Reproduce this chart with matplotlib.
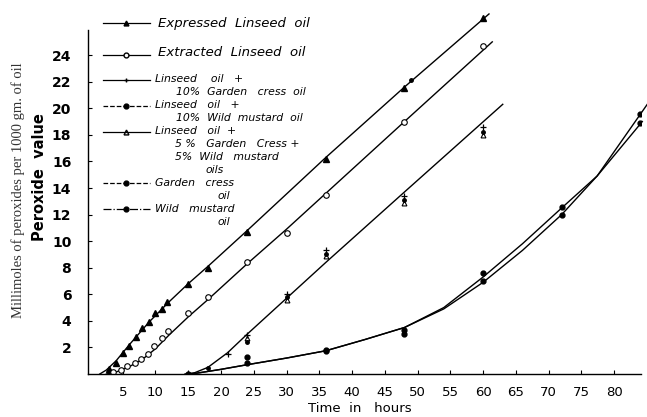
import matplotlib
matplotlib.use("Agg")
import matplotlib.pyplot as plt
from matplotlib.lines import Line2D

# --- data (hours, peroxide value) ---
# fitted curves as drawn in the original
expressed_curve_h = [1.5, 2.5, 4, 6, 9, 12, 15, 18, 24, 36, 48, 60.9]
expressed_curve_v = [0, 0.3, 1.0, 2.2, 3.9, 5.4, 6.8, 8.1, 10.8, 16.3, 21.6, 27.1]
extracted_curve_h = [2.5, 4, 6, 8, 10, 12, 15, 18, 24, 30, 36, 48, 61.4]
extracted_curve_v = [0, 0.15, 0.55, 1.1, 1.9, 2.9, 4.3, 5.6, 8.3, 10.9, 13.6, 19.0, 25.0]
mixture_curve_h = [14.5, 16, 18, 21, 24, 30, 36, 48, 63]
mixture_curve_v = [0, 0.1, 0.5, 1.6, 3.0, 5.7, 8.4, 13.7, 20.3]
cress_curve_h = [15.5, 20, 24, 30, 36, 42, 48, 54, 60, 66, 72, 77.4, 84.3]
cress_curve_v = [0, 0.35, 0.7, 1.2, 1.75, 2.6, 3.5, 5.0, 7.3, 9.8, 12.5, 14.9, 19.0]
mustard_curve_h = [15.5, 20, 24, 30, 36, 42, 48, 54, 60, 66, 72, 77.4, 85.2]
mustard_curve_v = [0, 0.35, 0.7, 1.2, 1.75, 2.6, 3.5, 4.9, 6.9, 9.3, 12.0, 14.9, 20.4]

# observed points
expressed_h = [2.9, 3.9, 5, 6, 7, 8, 9, 10, 11, 11.7, 15, 18, 24, 36, 48, 60]
expressed_v = [0.4, 0.8, 1.6, 2.1, 2.8, 3.5, 3.9, 4.6, 4.9, 5.4, 6.8, 8.0, 10.7, 16.2, 21.5, 26.8]
extracted_h = [3.5, 4.7, 5.7, 6.8, 7.8, 8.8, 9.8, 11, 11.9, 15, 18, 24, 30, 36, 48, 60]
extracted_v = [0.15, 0.3, 0.6, 0.8, 1.1, 1.5, 2.1, 2.7, 3.2, 4.6, 5.8, 8.4, 10.6, 13.5, 19.0, 24.7]
lin_cress_h = [21, 24, 30, 36, 48, 60]
lin_cress_v = [1.5, 2.9, 6.0, 9.3, 13.4, 18.6]
lin_mustard_h = [18, 24, 30, 36, 48, 60]
lin_mustard_v = [0.45, 2.4, 5.8, 9.0, 13.1, 18.2]
lin_mix_h = [24, 30, 36, 48, 60]
lin_mix_v = [2.7, 5.6, 8.9, 12.9, 18.0]
cress_h = [15, 24, 36, 48, 60, 72, 84]
cress_v = [0, 1.3, 1.8, 3.3, 7.6, 12.6, 18.9]
mustard_h = [24, 36, 48, 60, 72, 84]
mustard_v = [0.8, 1.7, 3.0, 7.0, 12.0, 19.6]
stray_h = [49]
stray_v = [22.1]

x_ticks = list(range(5, 85, 5))
y_ticks = list(range(2, 26, 2))

W, H = 647, 417
fig = plt.figure(figsize=(W / 100, H / 100), dpi=100)
ax = fig.add_axes([88 / W, 43 / H, (641 - 88) / W, 372 / H])
ax.set_xlim(-0.3, 84.1)
ax.set_ylim(0, 28)

lw = 1.0
for hh, vv in [(expressed_curve_h, expressed_curve_v), (extracted_curve_h, extracted_curve_v),
               (mixture_curve_h, mixture_curve_v), (cress_curve_h, cress_curve_v),
               (mustard_curve_h, mustard_curve_v)]:
    ax.plot(hh, vv, color="black", lw=lw, clip_on=False)

ax.plot(expressed_h, expressed_v, ls="none", marker="^", ms=4, color="black")
ax.plot(stray_h, stray_v, ls="none", marker="o", ms=2.5, color="black")
ax.plot(extracted_h, extracted_v, ls="none", marker="o", ms=4, mfc="white", mec="black", mew=0.8)
ax.plot(lin_cress_h, lin_cress_v, ls="none", marker="+", ms=4, color="black", mew=0.9)
ax.plot(lin_mustard_h, lin_mustard_v, ls="none", marker="o", ms=2.5, color="black")
ax.plot(lin_mix_h, lin_mix_v, ls="none", marker="^", ms=3.5, mfc="none", mec="black", mew=0.8)
ax.plot(cress_h, cress_v, ls="none", marker="o", ms=3.5, color="black")
ax.plot(mustard_h, mustard_v, ls="none", marker="o", ms=3.5, color="black")

# axes styling
for s in ["top", "right"]:
    ax.spines[s].set_visible(False)
ax.spines["left"].set_bounds(0, 25.9)
ax.spines["left"].set_linewidth(1.0)
ax.spines["bottom"].set_linewidth(1.0)
ax.set_xticks(x_ticks)
ax.set_yticks(y_ticks)
ax.tick_params(direction="in", length=3, width=0.8)
ax.tick_params(axis="y", pad=12, labelsize=10)
ax.tick_params(axis="x", pad=9, labelsize=9.5)
for t in ax.get_yticklabels():
    t.set_fontweight("bold")

fig.text(360 / W, 1 - 409 / H, "Time  in   hours", ha="center", va="center", fontsize=9.5)
fig.text(40 / W, 1 - 177 / H, "Peroxide  value", rotation=90, ha="center", va="center",
         fontsize=10.5, fontweight="bold")
fig.text(18 / W, 1 - 190 / H, "Millimoles of peroxides per 1000 gm. of oil", rotation=90,
         ha="center", va="center", fontsize=10.5, family="Liberation Serif", color="#333333")

# hand-drawn style key on the left
key = [
    (23, "-", "^", "black", 9.5, [(158, 23, "Expressed  Linseed  oil")]),
    (55, "-", "o", "white", 9.5, [(158, 52, "Extracted  Linseed  oil")]),
    (80, "-", "+", "black", 7.8, [(155, 79, "Linseed    oil   +"), (176, 92, "10%  Garden   cress  oil")]),
    (106, "--", "o", "black", 7.8, [(155, 105, "Linseed   oil   +"), (176, 118, "10%  Wild  mustard  oil")]),
    (132, "-", "^", "none", 7.8, [(155, 131, "Linseed   oil  +"), (175, 144, "5 %   Garden   Cress +"),
                                   (175, 157, "5%  Wild   mustard"), (205, 170, "oils")]),
    (183, "--", "o", "black", 7.8, [(155, 183, "Garden   cress"), (218, 196, "oil")]),
    (209, "-.", "o", "black", 7.8, [(155, 209, "Wild   mustard"), (218, 222, "oil")]),
]
for ky, ls, mk, fc, fs, labels in key:
    fig.add_artist(Line2D([103 / W, 150 / W], [1 - ky / H, 1 - ky / H], ls=ls, lw=0.9,
                          color="black", transform=fig.transFigure))
    fig.add_artist(Line2D([126 / W], [1 - ky / H], ls="none", marker=mk, ms=3.5,
                          mfc=fc, mec="black", color="black", transform=fig.transFigure))
    for lx, ly, txt in labels:
        fig.text(lx / W, 1 - ly / H, txt, ha="left", va="center", fontsize=fs,
                 style="italic")

fig.savefig("out.png", dpi=100)
